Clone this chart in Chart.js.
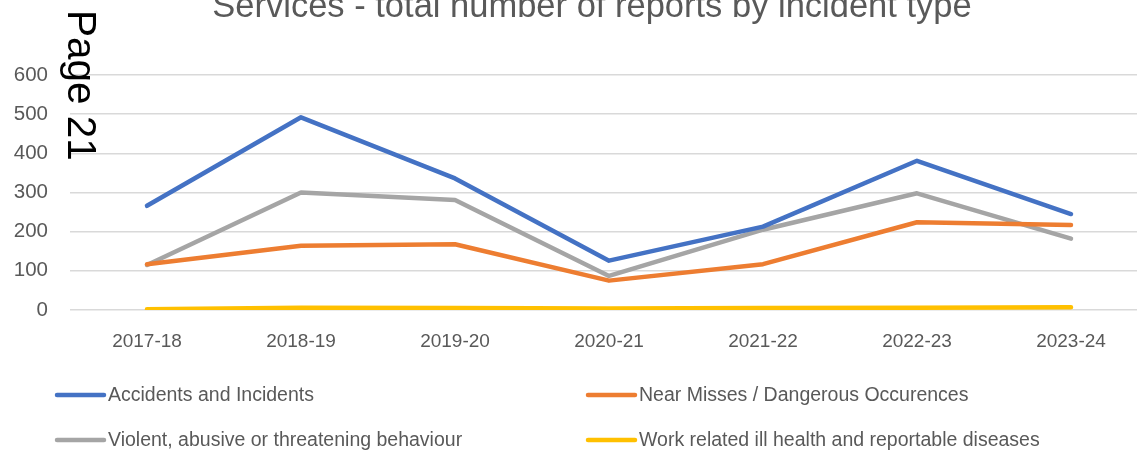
<!DOCTYPE html>
<html lang="en">
<head>
    <meta charset="UTF-8" />
    <title>Services - total number of reports by incident type</title>
    <script src="https://cdn.jsdelivr.net/npm/chart.js"></script>
    <style>
        body { margin: 0; background: #fff; overflow: hidden; }
        .wrap { width: 1150px; height: 452px; }
    </style>
</head>
<body>
<div class="wrap">
    <canvas id="incidentChart" width="1150" height="452"></canvas>
</div>
<script>
    // Data
    const years = ['2017-18', '2018-19', '2019-20', '2020-21', '2021-22', '2022-23', '2023-24'];
    const accidents = [266, 492, 336, 126, 213, 381, 245];
    const nearMisses = [117, 164, 168, 75, 117, 224, 217];
    const violent = [115, 300, 281, 87, 205, 298, 182];
    const illHealth = [2, 6, 5, 4, 5, 6, 7];
    const yTicks = [0, 100, 200, 300, 400, 500, 600];

    const seriesNames = [
        'Accidents and Incidents',
        'Near Misses / Dangerous Occurences',
        'Violent, abusive or threatening behaviour',
        'Work related ill health and reportable diseases'
    ];
    const seriesColors = ['#4472C4', '#ED7D31', '#A5A5A5', '#FFC000'];
    const seriesValues = [accidents, nearMisses, violent, illHealth];

    const FONT = "'Liberation Sans', Arial, sans-serif";
    const GREY_TEXT = '#595959';

    // title (its top runs off the page) and the stray "Page 21" stamp
    const extrasPlugin = {
        id: 'extras',
        afterDraw(chart) {
            const ctx = chart.ctx;
            ctx.save();
            ctx.fillStyle = GREY_TEXT;
            ctx.font = '34.5px ' + FONT;
            ctx.textAlign = 'center';
            ctx.textBaseline = 'alphabetic';
            ctx.fillText('Services - total number of reports by incident type', 592, 17);

            ctx.translate(68, 10);
            ctx.rotate(Math.PI / 2);
            ctx.fillStyle = '#000';
            ctx.font = '40.5px ' + FONT;
            ctx.textAlign = 'left';
            ctx.fillText('Page 21', 0, 0);
            ctx.restore();
        }
    };

    // two-column legend under the axis, like the Excel original
    const legendPlugin = {
        id: 'twoColLegend',
        afterDraw(chart) {
            const ctx = chart.ctx;
            const cols = [57, 588];
            const rows = [395, 440];
            ctx.save();
            ctx.font = '19.5px ' + FONT;
            ctx.textBaseline = 'middle';
            ctx.lineCap = 'round';
            ctx.lineWidth = 4.5;
            chart.data.datasets.forEach((ds, i) => {
                const x = cols[i % 2];
                const y = rows[Math.floor(i / 2)];
                ctx.strokeStyle = ds.borderColor;
                ctx.beginPath();
                ctx.moveTo(x, y);
                ctx.lineTo(x + 47, y);
                ctx.stroke();
                ctx.fillStyle = GREY_TEXT;
                ctx.fillText(ds.label, x + 51, y + 1);
            });
            ctx.restore();
        }
    };

    new Chart(document.getElementById('incidentChart'), {
        type: 'line',
        data: {
            labels: years,
            datasets: seriesNames.map((name, i) => ({
                label: name,
                data: seriesValues[i],
                borderColor: seriesColors[i],
                backgroundColor: seriesColors[i],
                borderWidth: 4.5,
                borderCapStyle: 'round',
                borderJoinStyle: 'round',
                pointRadius: 0,
                tension: 0,
                fill: false
            }))
        },
        options: {
            responsive: false,
            animation: false,
            layout: { padding: { left: 0, top: 75, right: 2, bottom: 100 } },
            plugins: {
                legend: { display: false },
                title: { display: false },
                tooltip: { enabled: false }
            },
            scales: {
                x: {
                    offset: true,
                    grid: { display: false, drawTicks: false },
                    border: { display: false },
                    ticks: { color: GREY_TEXT, font: { family: FONT, size: 19 }, padding: 20, maxRotation: 0 },
                    afterFit(scale) { scale.height = 42; }
                },
                y: {
                    min: 0,
                    max: 600,
                    afterBuildTicks(scale) { scale.ticks = yTicks.map(v => ({ value: v })); },
                    grid: { color: '#D9D9D9', lineWidth: 1.5, drawTicks: false },
                    border: { display: false },
                    ticks: { color: GREY_TEXT, font: { family: FONT, size: 20.5 }, padding: 22 },
                    afterFit(scale) { scale.width = 70; }
                }
            }
        },
        plugins: [extrasPlugin, legendPlugin]
    });
</script>
</body>
</html>
